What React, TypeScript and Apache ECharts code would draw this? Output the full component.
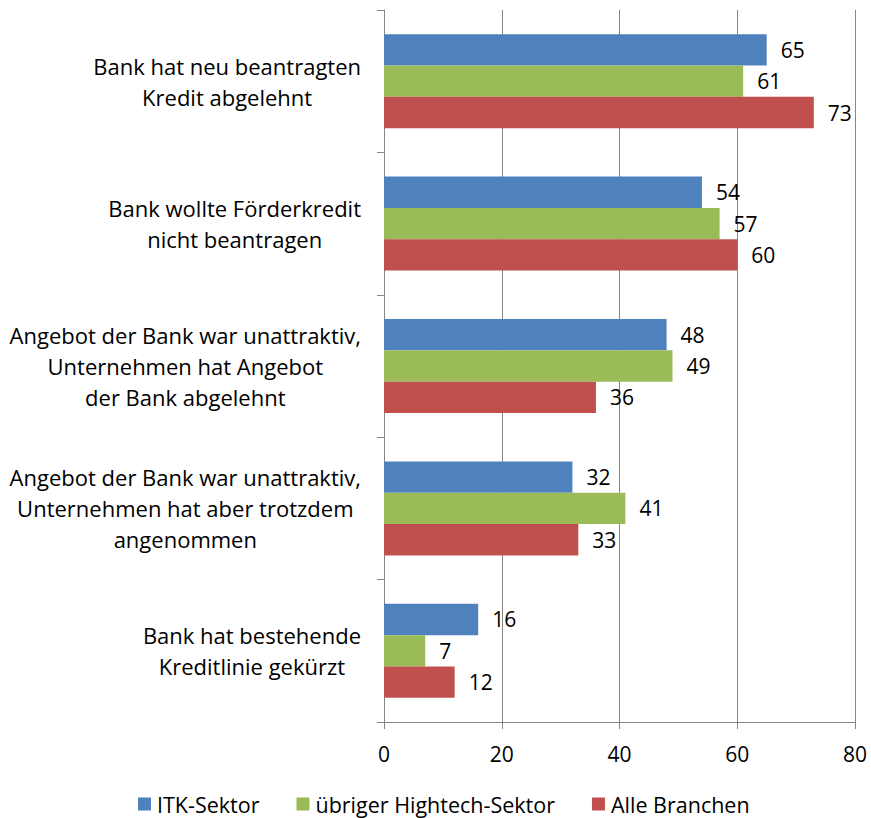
import React, { useEffect, useRef } from "react";
import * as echarts from "echarts";

const categories = [
  "Bank hat neu beantragten\nKredit abgelehnt",
  "Bank wollte Förderkredit\nnicht beantragen",
  "Angebot der Bank war unattraktiv,\nUnternehmen hat Angebot\nder Bank abgelehnt",
  "Angebot der Bank war unattraktiv,\nUnternehmen hat aber trotzdem\nangenommen",
  "Bank hat bestehende\nKreditlinie gekürzt",
];
const seriesNames = ["ITK-Sektor", "übriger Hightech-Sektor", "Alle Branchen"];
const itkValues = [65, 54, 48, 32, 16];
const hightechValues = [61, 57, 49, 41, 7];
const alleValues = [73, 60, 36, 33, 12];
const xTicks = [0, 20, 40, 60, 80];

const colors = ["#4F81BD", "#9BBB59", "#C0504D"];
const FONT = "Open Sans";

export default function App() {
  const ref = useRef<HTMLDivElement>(null);
  useEffect(() => {
    if (!ref.current) return;
    const chart = echarts.init(ref.current, undefined, { renderer: "svg" });
    const allValues = [itkValues, hightechValues, alleValues];
    chart.setOption({
      animation: false,
      backgroundColor: "#fff",
      textStyle: { fontFamily: FONT, color: "#000" },
      grid: { left: 384, right: 16, top: 10, bottom: 96, containLabel: false },
      legend: {
        data: seriesNames,
        left: 138,
        top: 793,
        padding: 0,
        icon: "rect",
        itemWidth: 13,
        itemHeight: 13,
        itemGap: 37,
        textStyle: { fontFamily: FONT, fontSize: 21.5, color: "#000", padding: [0, 0, 0, 1] },
      },
      xAxis: {
        type: "value",
        min: xTicks[0],
        max: xTicks[xTicks.length - 1],
        interval: xTicks[1] - xTicks[0],
        axisLine: { show: true, lineStyle: { color: "#868686", width: 1 } },
        axisTick: { show: true, length: 7, lineStyle: { color: "#868686" } },
        splitLine: { show: true, lineStyle: { color: "#868686", width: 1 } },
        axisLabel: { fontFamily: FONT, fontSize: 21, color: "#000", margin: 21 },
      },
      yAxis: {
        type: "category",
        inverse: true,
        data: categories,
        axisLine: { show: true, lineStyle: { color: "#868686", width: 1 } },
        axisTick: { show: true, length: 7, lineStyle: { color: "#868686" } },
        splitLine: { show: false },
        axisLabel: {
          interval: 0,
          align: "right",
          margin: 23,
          formatter: (v: string) =>
            v
              .split("\n")
              .map((l) => `{c|${l}}`)
              .join("\n"),
          rich: {
            c: {
              align: "center",
              fontFamily: FONT,
              fontSize: 22,
              lineHeight: 31,
              color: "#000",
            },
          },
        },
      },
      series: seriesNames.map((name, i) => ({
        name,
        type: "bar",
        data: allValues[i],
        barGap: "0%",
        barCategoryGap: "34%",
        itemStyle: { color: colors[i] },
        label: {
          show: true,
          position: "right",
          distance: 14,
          fontFamily: FONT,
          fontSize: 21,
          color: "#000",
        },
      })),
    });
    return () => chart.dispose();
  }, []);
  return (
    <div
      ref={ref}
      style={{ position: "fixed", left: 0, top: 0, width: 871, height: 818 }}
    />
  );
}
